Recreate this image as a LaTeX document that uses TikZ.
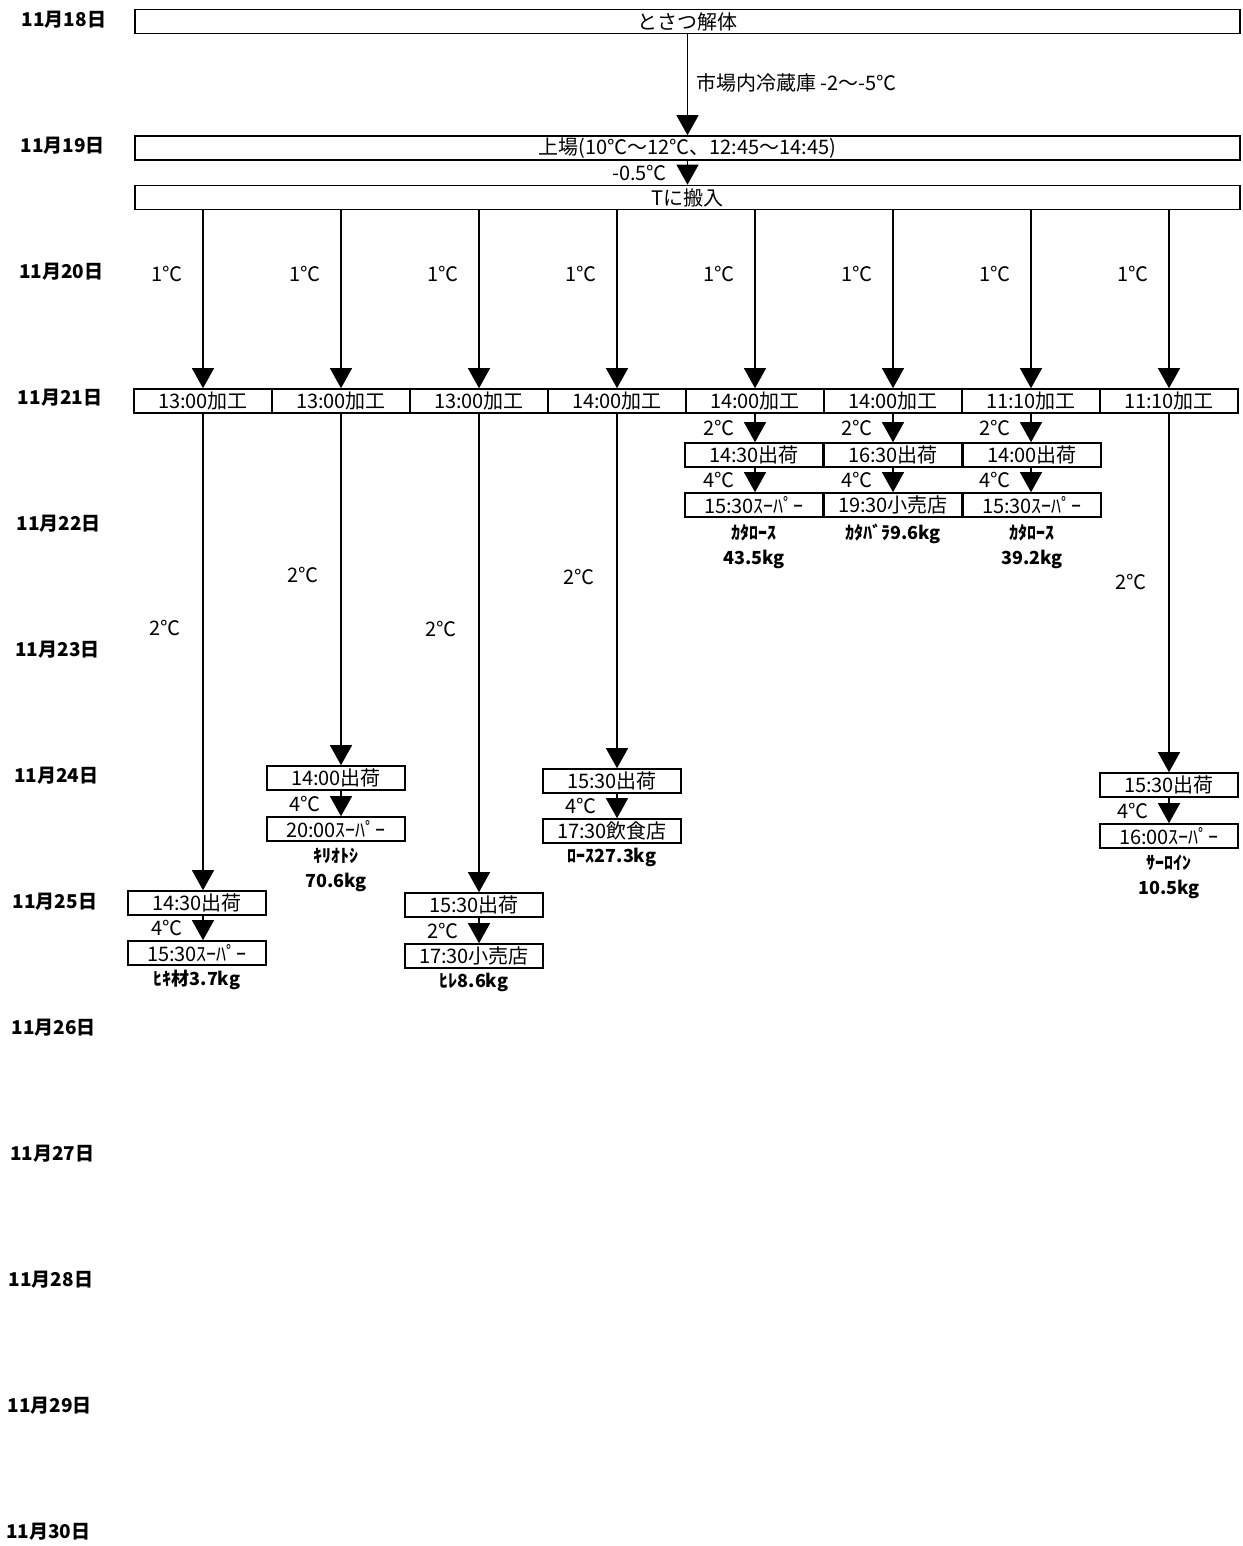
\documentclass[tikz,border=0pt]{standalone}
\usepackage{fontspec}
\setmainfont{Noto Sans CJK JP}
\usepackage{tikz}
\usetikzlibrary{arrows.meta}
\usetikzlibrary{positioning}

\tikzset{
	bandbox/.style={draw, line width=0.8pt, minimum width=552.5pt, minimum height=12pt, inner sep=0pt, font=\fontsize{10}{12}\selectfont},
	stagebox/.style={draw, line width=0.8pt, minimum width=69pt, minimum height=12pt, inner sep=0pt, font=\fontsize{10}{12}\selectfont},
	flowarr/.style={-{Triangle[width=11pt,length=10pt]}, line width=0.6pt},
	templbl/.style={font=\fontsize{10}{12}\selectfont, inner sep=1pt},
	daylbl/.style={font=\bfseries\fontsize{9.5}{11}\selectfont},
	meatlbl/.style={font=\bfseries\fontsize{9}{12.5}\selectfont, align=center, inner sep=1pt},
}

\begin{document}
\begin{tikzpicture}[x=0.5pt, y=-0.5pt]
			\useasboundingbox (0,0) rectangle (1242,1546);
			% dates
			\foreach \d [count=\i from 0] in {18,...,30}
				\node[daylbl] (d\d) at ({64-1.3*\i},{20+126*\i}) {11月{\d}日};
			% main line
			\node[bandbox] (slaughter) at (687.5,21.5) {とさつ解体};
			\node[bandbox] (arrive) at (687.5,148) {上場(10℃～12℃、12:45～14:45)};
			\node[bandbox] (storeT) at (687.5,197.5) {Tに搬入};
			\draw[flowarr] (slaughter) -- node[right=3pt, templbl, pos=0.48] {市場内冷蔵庫 -2～-5℃} (arrive);
			\draw[flowarr] (arrive) -- node[left=9pt, templbl] {-0.5℃} (storeT);
			% processing
			\foreach \t [count=\i] in {13:00,13:00,13:00,14:00,14:00,14:00,11:10,11:10}
				\node[stagebox] (p\i) at ({203+138*(\i-1)},401) {{\t}加工};
			\foreach \i in {1,...,8}
				\draw[flowarr] (storeT.south -| p\i) -- node[left=9pt, templbl, pos=0.36] {1℃} (p\i);
			% shipping, short
			\node[stagebox] (s5) at (754,455) {14:30出荷};
			\node[stagebox] (s6) at (893,455) {16:30出荷};
			\node[stagebox] (s7) at (1032,455) {14:00出荷};
			\node[stagebox] (r5) at (754,505) {15:30ｽｰﾊﾟｰ};
			\node[stagebox] (r6) at (893,505) {19:30小売店};
			\node[stagebox] (r7) at (1032,505) {15:30ｽｰﾊﾟｰ};
			\node[meatlbl, below=2pt of r5] (m5) {ｶﾀﾛｰｽ\\43.5kg};
			\node[meatlbl, below=2pt of r6] (m6) {ｶﾀﾊﾞﾗ9.6kg};
			\node[meatlbl, below=2pt of r7] (m7) {ｶﾀﾛｰｽ\\39.2kg};
			% shipping, long
			\node[stagebox] (s1) at (197,903) {14:30出荷};
			\node[stagebox] (r1) at (197,953) {15:30ｽｰﾊﾟｰ};
			\node[stagebox] (s2) at (336,778) {14:00出荷};
			\node[stagebox] (r2) at (336,829) {20:00ｽｰﾊﾟｰ};
			\node[stagebox] (s3) at (474,905) {15:30出荷};
			\node[stagebox] (r3) at (474,956) {17:30小売店};
			\node[stagebox] (s4) at (612,781) {15:30出荷};
			\node[stagebox] (r4) at (612,831) {17:30飲食店};
			\node[stagebox] (s8) at (1169,785) {15:30出荷};
			\node[stagebox] (r8) at (1169,836) {16:00ｽｰﾊﾟｰ};
			\node[meatlbl, below=1pt of r1] (m1) {ﾋｷ材3.7kg};
			\node[meatlbl, below=2pt of r2] (m2) {ｷﾘｵﾄｼ\\70.6kg};
			\node[meatlbl, below=1pt of r3] (m3) {ﾋﾚ8.6kg};
			\node[meatlbl, below=1pt of r4] (m4) {ﾛｰｽ27.3kg};
			\node[meatlbl, below=2pt of r8] (m8) {ｻｰﾛｲﾝ\\10.5kg};
			% arrows
			\foreach \i/\p in {1/0.45,2/0.46,3/0.45,4/0.46,8/0.47}
				\draw[flowarr] (p\i) -- node[left=10pt, templbl, pos=\p] {2℃} (p\i |- s\i.north);
			\foreach \i in {5,6,7}
				\draw[flowarr] (p\i) -- node[left=9pt, templbl] {2℃} (p\i |- s\i.north);
			\foreach \i/\c in {1/4,2/4,3/2,4/4,5/4,6/4,7/4,8/4}
				\draw[flowarr] (s\i.south -| p\i) -- node[left=9pt, templbl] {{\c}℃} (r\i.north -| p\i);
		\end{tikzpicture}
\end{document}
